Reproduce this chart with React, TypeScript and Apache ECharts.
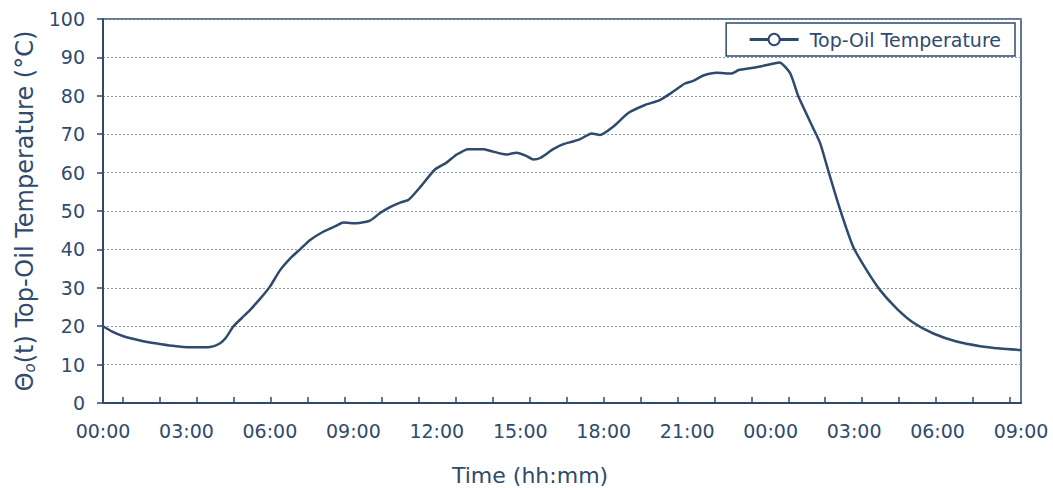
import React, { useEffect, useRef } from "react";
import * as echarts from "echarts";

// Elapsed minutes since 00:00 on day one
const timeMinutes: number[] = [
  0, 20, 44, 80, 116, 150, 188, 231, 252, 265, 281, 300, 317, 340, 360, 382, 405, 425, 446, 475,
  504, 518, 547, 576, 597, 619, 641, 659, 684, 716, 741, 763, 788, 820, 835, 856, 871, 892, 914, 928,
  943, 971, 993, 1014, 1029, 1054, 1072, 1101, 1133, 1169, 1201, 1230, 1255, 1273, 1295, 1324, 1356,
  1371, 1403, 1432, 1459, 1482, 1500, 1532, 1547, 1565, 1590, 1618, 1647, 1676, 1712, 1748, 1791,
  1841, 1892, 1935, 1980,
];
// Top-oil temperature (°C)
const topOilTemperature: number[] = [
  20.0, 18.6, 17.4, 16.3, 15.5, 14.9, 14.5, 14.6, 15.5, 17.0, 19.9, 22.2, 24.2, 27.3, 30.3, 34.6, 37.8,
  40.0, 42.4, 44.6, 46.2, 47.0, 46.8, 47.5, 49.4, 51.0, 52.2, 52.9, 56.2, 60.8, 62.6, 64.7, 66.1, 66.1,
  65.7, 65.0, 64.7, 65.2, 64.3, 63.4, 63.8, 66.1, 67.4, 68.1, 68.7, 70.2, 69.8, 72.0, 75.5, 77.6, 78.9,
  81.1, 83.2, 83.9, 85.3, 86.0, 85.8, 86.7, 87.3, 88.0, 88.7, 85.9, 79.8, 71.5, 67.6, 60.2, 50.3, 40.7,
  34.6, 29.4, 24.6, 20.9, 18.1, 16.0, 14.8, 14.2, 13.8,
];
const seriesName = "Top-Oil Temperature";
const xTitle = "Time (hh:mm)";

const NAVY = "#2f4a6d";
const FONT = "DejaVu Sans";

// minor tick positions on the time axis (minutes)
const minorTicks: number[] = [];
for (let k = 0; k <= 24; k++) minorTicks.push(42.5 + 79.75 * k);

function fmtTime(v: number): string {
  const h = Math.floor(v / 60) % 24;
  const m = Math.round(v % 60);
  return String(h).padStart(2, "0") + ":" + String(m).padStart(2, "0");
}

export default function App() {
  const ref = useRef<HTMLDivElement>(null);
  useEffect(() => {
    if (!ref.current) return;
    const chart = echarts.init(ref.current, undefined, { renderer: "svg" });
    const data = timeMinutes.map((t, i) => [t, topOilTemperature[i]]);
    chart.setOption({
      animation: false,
      backgroundColor: "#ffffff",
      textStyle: { fontFamily: FONT, color: NAVY },
      grid: {
        left: 103,
        right: 32,
        top: 19,
        bottom: 85,
        show: true,
        borderColor: NAVY,
        borderWidth: 1.5,
        backgroundColor: "transparent",
      },
      legend: {
        show: true,
        right: 38,
        top: 23,
        padding: [7, 14, 7, 22],
        backgroundColor: "#ffffff",
        borderColor: NAVY,
        borderWidth: 1.5,
        borderRadius: 0,
        itemWidth: 49,
        itemHeight: 14,
        itemGap: 10,
        lineStyle: { width: 3 },
        itemStyle: { borderWidth: 2.5 },
        textStyle: { fontFamily: FONT, fontSize: 19, color: NAVY, padding: [0, 0, 0, 6] },
        data: [seriesName],
      },
      xAxis: {
        type: "value",
        min: 0,
        max: 1980,
        interval: 180,
        axisLine: { show: true, onZero: false, lineStyle: { color: NAVY, width: 2 } },
        axisTick: {
          show: true,
          inside: true,
          length: 6,
          customValues: minorTicks,
          lineStyle: { color: NAVY, width: 1.5 },
        },
        axisLabel: {
          show: true,
          margin: 18,
          fontSize: 19,
          fontFamily: FONT,
          color: NAVY,
          showMinLabel: true,
          showMaxLabel: true,
          hideOverlap: false,
          formatter: (v: number) => fmtTime(v),
        },
        splitLine: { show: false },
      },
      yAxis: {
        type: "value",
        min: 0,
        max: 100,
        interval: 10,
        axisLine: { show: true, lineStyle: { color: NAVY, width: 2 } },
        axisTick: { show: true, inside: false, length: 6, lineStyle: { color: NAVY, width: 1.5 } },
        axisLabel: { margin: 18, fontSize: 19, fontFamily: FONT, color: NAVY },
        splitLine: {
          show: true,
          lineStyle: { color: "#8595ab", width: 1, type: [2, 2] },
        },
        name: "{a|Θ}{sub|o}{a|(t) Top-Oil Temperature (°C)}",
        nameLocation: "middle",
        nameRotate: 90,
        nameGap: 66,
        nameTextStyle: {
          color: NAVY,
          fontFamily: FONT,
          rich: {
            a: { fontSize: 24, fontFamily: FONT, color: NAVY },
            sub: { fontSize: 15, fontFamily: FONT, color: NAVY, fontStyle: "italic", verticalAlign: "bottom", padding: [9, 0, 0, 0] },
          },
        },
      },
      graphic: [
        {
          type: "text",
          left: 532 - 80,
          top: 464,
          style: { text: xTitle, fontSize: 22, fontFamily: FONT, fill: NAVY },
        },
      ],
      series: [
        {
          name: seriesName,
          type: "line",
          data,
          smooth: 0.2,
          symbol: "emptyCircle",
          symbolSize: 10,
          showSymbol: false,
          lineStyle: { color: NAVY, width: 2.5 },
          itemStyle: { color: NAVY, borderColor: NAVY, borderWidth: 2.5 },
        },
      ],
    });
    return () => chart.dispose();
  }, []);
  return (
    <div
      ref={ref}
      style={{ position: "fixed", left: 0, top: 0, width: 1053, height: 488 }}
    />
  );
}
